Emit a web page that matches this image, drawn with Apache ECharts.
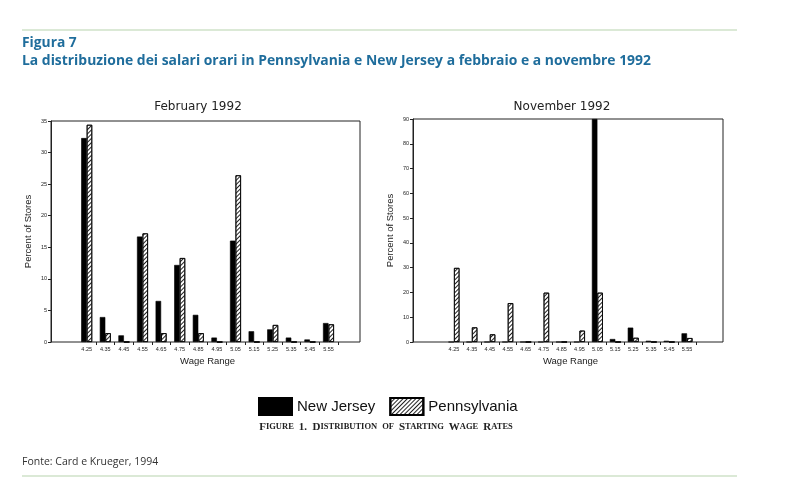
<!DOCTYPE html>
<html><head><meta charset="utf-8">
<script src="https://cdn.jsdelivr.net/npm/echarts@6/dist/echarts.min.js"></script>
<style>html,body{margin:0;padding:0;background:#fff}#c{width:800px;height:498px}</style>
</head><body><div id="c"></div>
<script>
var wageCats = ['4.25','4.35','4.45','4.55','4.65','4.75','4.85','4.95','5.05','5.15','5.25','5.35','5.45','5.55'];
var febNJ = [32.3, 3.95, 1.05, 16.7, 6.5, 12.2, 4.3, 0.7, 16.05, 1.7, 2.0, 0.7, 0.4, 3.0];
var febPA = [34.4, 1.4, 0, 17.2, 1.4, 13.3, 1.4, 0, 26.4, 0, 2.7, 0, 0, 2.8];
var novNJ = [0, 0, 0, 0, 0, 0, 0, 0, 90, 1.2, 5.8, 0.5, 0.5, 3.5];
var novPA = [29.9, 5.9, 3.1, 15.7, 0, 19.9, 0, 4.6, 19.9, 0, 1.7, 0, 0, 1.6];
var febTicks = {min: 0, max: 35, interval: 5};
var novTicks = {min: 0, max: 90, interval: 10};

var chart = echarts.init(document.getElementById('c'), null, {renderer: 'canvas'});
var FONT = 'Liberation Sans';
var hatch = {symbol: 'rect', symbolSize: 1, dashArrayX: [1, 0], dashArrayY: [1, 1.6], rotation: -Math.PI / 4, color: '#222'};
var njStyle = {color: '#000', borderColor: '#000', borderWidth: 0.6};
var paStyle = {color: '#fff', borderColor: '#000', borderWidth: 0.8, decal: hatch};

function boxY(idx, t) {
  return {gridIndex: idx, type: 'value', min: t.min, max: t.max, interval: t.interval,
    name: 'Percent of Stores', nameLocation: 'middle', nameGap: 18,
    nameTextStyle: {fontFamily: FONT, fontSize: 9.5, color: '#222'},
    axisLine: {show: true, lineStyle: {color: '#222', width: 1}},
    axisTick: {show: true, inside: false, length: 3, lineStyle: {color: '#222'}},
    axisLabel: {fontFamily: FONT, fontSize: 5.5, color: '#222', margin: 4},
    splitLine: {show: false}};
}
function dataY(idx, t) {
  return {gridIndex: idx, type: 'value', min: t.min, max: t.max, interval: t.interval, show: false, splitLine: {show: false}};
}
function dataX(idx) {
  return {gridIndex: idx, type: 'category', data: wageCats, boundaryGap: true,
    name: 'Wage Range', nameLocation: 'middle', nameGap: 14,
    nameTextStyle: {fontFamily: FONT, fontSize: 9.5, color: '#222'},
    axisLine: {show: false},
    axisTick: {show: true, inside: false, length: 3, lineStyle: {color: '#222'},
      interval: function (i) { return i > 0; }},
    axisLabel: {fontFamily: FONT, fontSize: 5.5, color: '#222', margin: 4, interval: 0},
    splitLine: {show: false}};
}

chart.setOption({
  backgroundColor: '#fff',
  animation: false,
  title: [
    {text: 'Figura 7', left: 22, top: 36, padding: 0, textStyle: {fontFamily: 'Open Sans', fontWeight: 'bold', fontSize: 13.8, color: '#1f6d9c'}},
    {text: 'La distribuzione dei salari orari in Pennsylvania e New Jersey a febbraio e a novembre 1992', left: 22, top: 54, padding: 0,
      textStyle: {fontFamily: 'Open Sans', fontWeight: 'bold', fontSize: 13.9, color: '#1f6d9c'}},
    {text: 'February 1992', left: 198, top: 101, padding: 0, textAlign: 'center', textStyle: {fontFamily: 'DejaVu Sans', fontWeight: 'normal', fontSize: 12, color: '#222'}},
    {text: 'November 1992', left: 562, top: 101, padding: 0, textAlign: 'center', textStyle: {fontFamily: 'DejaVu Sans', fontWeight: 'normal', fontSize: 12, color: '#222'}},
    {text: '{b|F}{s|IGURE} {b|1.  D}{s|ISTRIBUTION} {s|OF} {b|S}{s|TARTING} {b|W}{s|AGE} {b|R}{s|ATES}', left: 386, top: 418, padding: 0, textAlign: 'center',
      textStyle: {rich: {
        b: {fontFamily: 'Liberation Serif', fontWeight: 'bold', fontSize: 11, color: '#222'},
        s: {fontFamily: 'Liberation Serif', fontWeight: 'bold', fontSize: 8.5, color: '#222'}}}},
    {text: 'Fonte: Card e Krueger, 1994', left: 22, top: 457, padding: 0, textStyle: {fontFamily: 'Open Sans', fontWeight: 'normal', fontSize: 10.5, color: '#333'}}
  ],
  graphic: [
    {type: 'line', shape: {x1: 22, y1: 30, x2: 737, y2: 30}, style: {stroke: '#b8d4ad', lineWidth: 1.2}},
    {type: 'line', shape: {x1: 22, y1: 476, x2: 737, y2: 476}, style: {stroke: '#b8d4ad', lineWidth: 1.2}}
  ],
  legend: {left: 258, top: 397, padding: 0, itemWidth: 33, itemHeight: 17, itemGap: 14, icon: 'rect',
    data: ['New Jersey', 'Pennsylvania'],
    textStyle: {fontFamily: FONT, fontSize: 15, color: '#111'}},
  grid: [
    {left: 51, top: 121, width: 309, height: 221, show: true, borderColor: '#222', borderWidth: 1, backgroundColor: 'transparent'},
    {left: 77.4, top: 121, width: 260.4, height: 221},
    {left: 413, top: 119, width: 310, height: 223, show: true, borderColor: '#222', borderWidth: 1, backgroundColor: 'transparent'},
    {left: 445, top: 119, width: 251, height: 223}
  ],
  xAxis: [
    {gridIndex: 0, type: 'value', show: false},
    dataX(1),
    {gridIndex: 2, type: 'value', show: false},
    dataX(3)
  ],
  yAxis: [boxY(0, febTicks), dataY(1, febTicks), boxY(2, novTicks), dataY(3, novTicks)],
  series: [
    {name: 'New Jersey', type: 'bar', xAxisIndex: 1, yAxisIndex: 1, data: febNJ, barWidth: 5.5, barGap: '0%', itemStyle: njStyle},
    {name: 'Pennsylvania', type: 'bar', xAxisIndex: 1, yAxisIndex: 1, data: febPA, barWidth: 5.5, barGap: '0%', itemStyle: paStyle},
    {name: 'New Jersey', type: 'bar', xAxisIndex: 3, yAxisIndex: 3, data: novNJ, barWidth: 5.5, barGap: '0%', itemStyle: njStyle},
    {name: 'Pennsylvania', type: 'bar', xAxisIndex: 3, yAxisIndex: 3, data: novPA, barWidth: 5.5, barGap: '0%', itemStyle: paStyle}
  ]
});
</script></body></html>
